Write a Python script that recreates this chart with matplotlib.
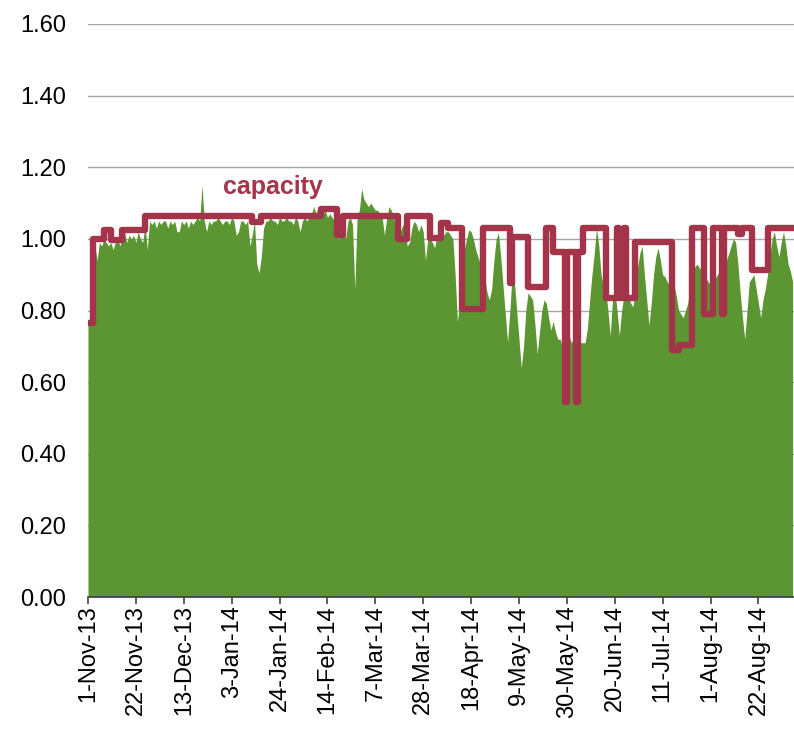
import matplotlib
matplotlib.use("Agg")
import matplotlib.pyplot as plt
import numpy as np
import pandas as pd

# daily series, starting 1-Nov-2013
start = pd.Timestamp("2013-11-01")
usage = [
    0.76, 0.77, 0.96, 0.98, 0.94, 0.99, 0.98, 1.00, 0.99, 0.98,
    0.99, 0.97, 0.99, 1.00, 0.98, 1.01, 1.02, 0.99, 1.01, 1.00,
    1.01, 0.99, 1.02, 1.00, 0.99, 1.04, 0.97, 1.05, 1.04, 1.05,
    1.03, 1.05, 1.04, 1.05, 1.05, 1.03, 1.05, 1.04, 1.05, 1.02,
    1.02, 1.05, 1.04, 1.05, 1.03, 1.05, 1.04, 1.05, 1.06, 1.05,
    1.15, 1.05, 1.02, 1.05, 1.04, 1.05, 1.05, 1.06, 1.05, 1.04,
    1.05, 1.05, 1.04, 1.06, 1.05, 1.01, 1.02, 1.05, 1.05, 1.04,
    1.05, 0.98, 1.01, 1.05, 0.93, 0.905, 0.95, 1.03, 1.05, 1.05,
    1.06, 1.05, 1.05, 1.04, 1.06, 1.05, 1.05, 1.06, 1.05, 1.05,
    1.04, 1.06, 1.05, 1.02, 1.05, 1.06, 1.05, 1.06, 1.07, 1.09,
    1.07, 1.09, 1.08, 1.07, 1.08, 1.06, 1.07, 1.06, 1.05, 1.01,
    1.00, 1.05, 1.04, 1.00, 1.05, 1.06, 1.04, 0.86, 1.06, 1.08,
    1.14, 1.11, 1.10, 1.09, 1.10, 1.09, 1.08, 1.08, 1.07, 1.06,
    1.01, 1.06, 1.09, 1.08, 1.06, 1.03, 1.00, 1.02, 1.04, 1.03,
    0.98, 0.99, 1.03, 1.05, 1.04, 1.02, 1.04, 1.02, 0.94, 1.00,
    1.00, 0.99, 0.975, 1.01, 1.02, 1.02, 1.01, 1.02, 1.02, 1.01,
    1.00, 0.90, 0.77, 0.82, 0.90, 0.97, 1.00, 1.025, 1.02, 1.00,
    0.97, 0.95, 0.93, 0.92, 0.89, 0.85, 0.83, 0.86, 0.94, 1.00,
    1.017, 0.95, 0.87, 0.79, 0.712, 0.80, 0.90, 0.88, 0.80, 0.72,
    0.64, 0.70, 0.80, 0.85, 0.84, 0.83, 0.76, 0.68, 0.74, 0.80,
    0.83, 0.82, 0.78, 0.745, 0.77, 0.74, 0.72, 0.72, 0.70, 0.71,
    0.72, 0.73, 0.71, 0.72, 0.70, 0.72, 0.71, 0.71, 0.71, 0.75,
    0.83, 0.90, 0.96, 1.03, 0.98, 0.90, 0.87, 0.86, 0.80, 0.73,
    0.83, 0.86, 0.80, 0.73, 0.80, 0.84, 0.86, 0.84, 0.82, 0.81,
    0.86, 0.92, 0.96, 0.98, 0.90, 0.83, 0.76, 0.82, 0.90, 0.95,
    0.975, 0.94, 0.90, 0.894, 0.88, 0.87, 0.905, 0.87, 0.84, 0.80,
    0.79, 0.78, 0.80, 0.82, 0.86, 0.90, 0.92, 0.93, 0.92, 0.91,
    0.90, 0.89, 0.88, 0.87, 0.88, 0.89, 0.90, 0.91, 0.90, 0.92,
    0.94, 0.96, 0.98, 1.00, 0.99, 0.93, 0.85, 0.78, 0.72, 0.80,
    0.88, 0.89, 0.90, 0.86, 0.82, 0.78, 0.83, 0.86, 0.90, 0.95,
    1.00, 1.02, 0.98, 0.95, 0.99, 1.02, 0.98, 0.93, 0.91, 0.88,
]

# capacity step changes: day offset from 1-Nov-13, level
cap_day = [0, 2, 7, 10, 15, 25, 72, 76, 102, 109, 112, 136, 140, 150, 155, 158,
           164, 173, 185, 186, 193, 201, 204, 209, 210, 214, 215, 217, 227, 232,
           233, 235, 236, 240, 256, 259, 265, 270, 274, 278, 279, 285, 287, 291,
           298, 310]
cap_val = [0.765, 1.00, 1.025, 0.997, 1.025, 1.063, 1.048, 1.063, 1.083, 1.01,
           1.063, 1.00, 1.063, 1.003, 1.045, 1.03, 0.805, 1.03, 0.877, 1.005,
           0.866, 1.03, 0.964, 0.545, 0.964, 0.545, 0.964, 1.03, 0.835, 1.03,
           0.835, 1.03, 0.835, 0.99, 0.69, 0.704, 1.03, 0.79, 1.03, 0.79,
           1.03, 1.015, 1.03, 0.913, 1.03, 1.03]

tick_labels = ["1-Nov-13", "22-Nov-13", "13-Dec-13", "3-Jan-14", "24-Jan-14",
               "14-Feb-14", "7-Mar-14", "28-Mar-14", "18-Apr-14", "9-May-14",
               "30-May-14", "20-Jun-14", "11-Jul-14", "1-Aug-14", "22-Aug-14"]

plt.rcParams['font.family'] = ['Liberation Sans', 'DejaVu Sans']

days = np.arange(len(usage))
tick_pos = [(pd.to_datetime(t, format="%d-%b-%y") - start).days for t in tick_labels]

fig = plt.figure(figsize=(7.94, 7.34), dpi=100)
ax = fig.add_axes([88/794, 137/734, 1 - 88/794, 573/734])

ax.fill_between(days, usage, 0, color='#5b9632', linewidth=0, zorder=2)
ax.step(cap_day, cap_val, where='post', color='#a3344a', linewidth=4.6,
        solid_joinstyle='round', zorder=3)
ax.text(81, 1.146, 'capacity', color='#a3344a', fontsize=18, fontweight='bold',
        ha='center', va='center', zorder=4)

ax.set_xlim(0, 309.6)
ax.set_ylim(0, 1.6)
ax.set_yticks(np.arange(0, 1.61, 0.2))
ax.set_yticklabels(['%.2f' % v for v in np.arange(0, 1.61, 0.2)], fontsize=17)
ax.yaxis.grid(True, color='#a6a6a6', linewidth=1, zorder=0)
ax.set_axisbelow(True)
ax.tick_params(axis='y', length=0, pad=16)
ax.set_xticks(tick_pos)
ax.set_xticklabels(tick_labels, rotation=90, fontsize=17)
ax.tick_params(axis='x', length=5, width=1.2, color='#404040', pad=1)

for s in ['top', 'right', 'left']:
    ax.spines[s].set_visible(False)
ax.spines['bottom'].set_color('#404040')
ax.spines['bottom'].set_linewidth(1.2)

fig.savefig('out.png', dpi=100)
